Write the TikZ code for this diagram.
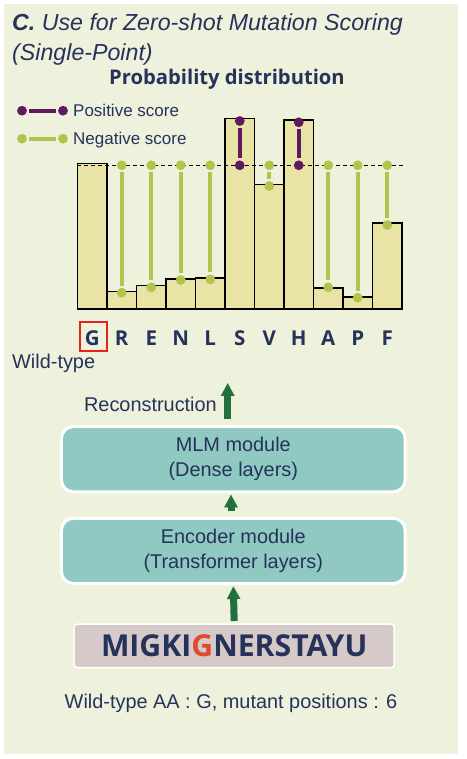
\documentclass[tikz,border=0pt]{standalone}
\usepackage{fontspec}
\setmainfont{Liberation Sans}
\newfontfamily\headfont{Open Sans}
\usetikzlibrary{arrows.meta,
                positioning}

\definecolor{panel}{HTML}{EEF2DC}
\definecolor{ink}{HTML}{26325A}
\definecolor{barfill}{HTML}{E9E4A6}
\definecolor{lolgreen}{HTML}{B2C44E}
\definecolor{lolpurple}{HTML}{5F1A5F}
\definecolor{teal}{HTML}{8FC9C1}
\definecolor{seqfill}{HTML}{D5CAC9}
\definecolor{arrgreen}{HTML}{23703F}
\definecolor{mutred}{HTML}{E04A2F}
\definecolor{boxred}{HTML}{E8211E}

\begin{document}
\begin{tikzpicture}[
x = 1pt, y = -1pt,
   txt/.style = {text=ink, inner sep=0pt,
                 font=\fontsize{19.9}{24.7}\selectfont},
legend/.style = {text=ink, inner sep=0pt,
                 font=\fontsize{17}{20}\selectfont},
    aa/.style = {text=ink, inner sep=0pt, anchor=base,
                 font=\headfont\bfseries\fontsize{20.5}{24}\selectfont},
   bar/.style = {draw=black, line width=1.2pt, fill=barfill},
   dot/.style = {circle, fill, inner sep=0pt, minimum size=9.8pt},
negscore/.style = {color=lolgreen, line width=4pt},
posscore/.style = {color=lolpurple, line width=4pt},
module/.style = {rectangle, rounded corners=12pt, draw=white, line width=3pt,
                 fill=teal, minimum width=343.7pt, minimum height=65.3pt,
                 align=center, text=ink,
                 font=\fontsize{19.9}{24.7}\selectfont},
    up/.style = {draw=arrgreen, line width=7pt,
                 -{Triangle[length=12.5pt, width=13.5pt, line width=0.1pt]}},
                        ]
\useasboundingbox (0,0) rectangle (466,759);
\fill[white] (0,0) rectangle (466,759);
\fill[panel] (4,4) rectangle (458,754);

% title
\node[txt, anchor=base west, font=\fontsize{23.2}{27}\selectfont\itshape]
    (title) at (12,30.7) {{\bfseries C.} Use for Zero-shot Mutation Scoring};
\node[txt, anchor=base west, font=\fontsize{23.2}{27}\selectfont\itshape]
    (title2) at (12,61) {(Single-Point)};
\node[txt, anchor=base, font=\headfont\bfseries\fontsize{20.2}{24}\selectfont]
    (probdist) at (227,85) {Probability distribution};

% legend
\node[dot, posscore] (pos-a) at (22,110.7) {};
\node[dot, posscore] (pos-b) at (63,110.7) {};
\draw[posscore] (pos-a) -- (pos-b);
\node[legend, anchor=base west] (poslbl) at (73,116.5) {Positive score};
\node[dot, negscore] (neg-a) at (22,138.7) {};
\node[dot, negscore] (neg-b) at (63,138.7) {};
\draw[negscore] (neg-a) -- (neg-b);
\node[legend, anchor=base west] (neglbl) at (73,144.5) {Negative score};

% bars
\foreach \h [count=\j] in {163.3,291.3,285.3,279,278,118.3,184.3,120,288,297,223}
    \draw[bar] ({48+29.5*\j},309) rectangle ++(29.5,{\h-309});
\draw[line width=1pt, dash pattern=on 4pt off 3pt] (77,165.3) -- (403,165.3);

% scores
\foreach \j/\y/\s in {2/292.7/negscore, 3/287.3/negscore, 4/280/negscore,
                      5/279.3/negscore, 6/121/posscore, 7/186/negscore,
                      8/122.3/posscore, 9/287.3/negscore, 10/297.7/negscore,
                      11/225/negscore}
{
\node[dot, \s] (hi-\j) at ({62.75+29.5*\j},165.3) {};
\node[dot, \s] (lo-\j) at ({62.75+29.5*\j},\y) {};
\draw[\s] (hi-\j) -- (lo-\j);
}

% amino acids
\foreach \a [count=\j] in {G,R,E,N,L,S,V,H,A,P,F}
    \node[aa] (aa-\j) at ({62.75+29.5*\j},345) {\a};
\node[draw=boxred, line width=1.5pt, minimum width=27pt, minimum height=29pt,
      inner sep=0pt] (wtbox) at (93.5,336.7) {};
\node[txt, anchor=base west] (wt) at (12,368) {Wild-type};

% model
\node[module] (mlm) at (233.3,459.2) {MLM module\\(Dense layers)};
\node[module] (enc) at (233.3,550.9) {Encoder module\\(Transformer layers)};
\node[rectangle, rounded corners=3pt, draw=white, line width=1.5pt,
      fill=seqfill, minimum width=320pt, minimum height=43.5pt,
      text=ink, font=\headfont\bfseries\fontsize{30.2}{34}\selectfont]
    (seq) at (234.2,645.8) {MIGKI\textcolor{mutred}{G}NERSTAYU};
\node[txt, anchor=base] (note) at (231,708)
    {Wild-type AA : G, mutant positions : 6};

\coordinate (rectop) at (227.7,383.3);
\draw[up, shorten <=6.5pt] ([xshift=-5.6pt]mlm.north) -- (rectop);
\node[txt, anchor=base east] (reclbl) at (217,411.5) {Reconstruction};
\draw[up, shorten <=5.5pt, shorten >=1.5pt]
    ([xshift=-2.3pt]enc.north) -- ([xshift=-2.3pt]mlm.south);
\draw[up, shorten <=2.3pt, shorten >=1.5pt] (seq.north) -- (enc.south);
\end{tikzpicture}
\end{document}
